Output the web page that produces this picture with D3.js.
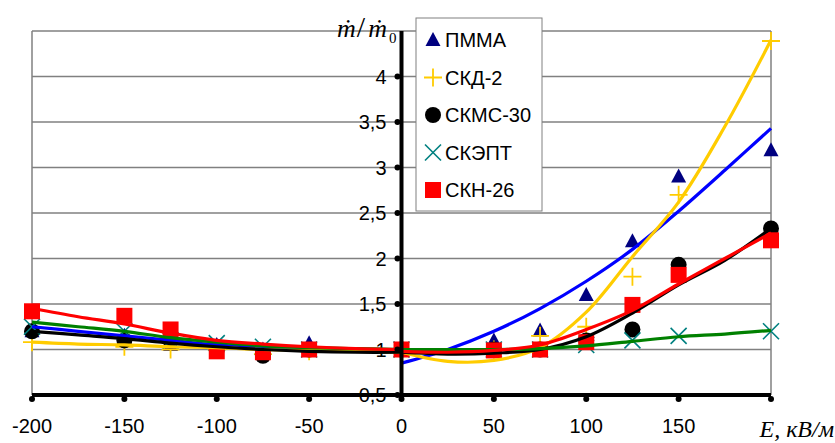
<!DOCTYPE html>
<html lang="ru">
<head>
<meta charset="UTF-8">
<title>m/m0 vs E</title>
<script src="https://cdn.jsdelivr.net/npm/d3@7/dist/d3.min.js"></script>
<style>
  body { margin: 0; background: #fff; }
  svg text { font-family: "Liberation Sans", Arial, sans-serif; }
</style>
</head>
<body>
<script>
// Measured points (x = E, kV/m)
const xPoints = [-200, -150, -125, -100, -75, -50, 0, 50, 75, 100, 125, 150, 200];
const pmma  = [1.2, 1.15, 1.05, 1.05, 1.0, 1.07, 1.0, 1.1, 1.21, 1.6, 2.19, 2.9, 3.19];
const skd2  = [1.08, 1.03, 1.0, 1.0, 0.95, 0.98, 1.0, 1.0, 1.15, 1.25, 1.8, 2.7, 4.39];
const skms  = [1.2, 1.1, 1.1, 1.0, 0.93, 1.0, 1.0, 1.0, 1.0, 1.1, 1.22, 1.93, 2.33];
const skept = [1.25, 1.2, 1.1, 1.07, 1.03, 1.0, 1.0, 1.0, 1.0, 1.05, 1.1, 1.15, 1.2];
const skn   = [1.42, 1.37, 1.22, 0.98, 0.97, 1.0, 1.0, 0.99, 1.0, 1.08, 1.49, 1.82, 2.2];

// Trend lines (left and right branches)
const leftX  = [-200, -175, -150, -125, -100, -75, -50, -25, 0];
const rightX = [0, 25, 50, 75, 100, 125, 150, 175, 200];
const pmmaL  = [1.25, 1.2, 1.15, 1.1, 1.05, 1.02, 1.01, 1.0, 1.0];
const pmmaR  = [0.85, 1.0, 1.2, 1.45, 1.75, 2.1, 2.52, 2.97, 3.43];
const skd2L  = [1.08, 1.06, 1.05, 1.03, 1.02, 1.0, 0.99, 0.98, 0.97];
const skd2R  = [0.97, 0.87, 0.88, 1.02, 1.41, 2.02, 2.62, 3.45, 4.4];
const skmsL  = [1.2, 1.16, 1.12, 1.07, 1.03, 1.0, 0.98, 0.97, 0.97];
const skmsR  = [0.97, 0.95, 0.96, 1.0, 1.14, 1.4, 1.71, 1.98, 2.33];
const skeptL = [1.3, 1.25, 1.2, 1.13, 1.08, 1.04, 1.02, 1.01, 1.0];
const skeptR = [1.0, 1.0, 1.0, 1.01, 1.04, 1.09, 1.14, 1.17, 1.21];
const sknL   = [1.45, 1.36, 1.28, 1.18, 1.1, 1.06, 1.03, 1.01, 1.0];
const sknR   = [0.98, 0.97, 0.99, 1.05, 1.22, 1.43, 1.72, 2.0, 2.28];

const seriesNames = ["ПММА", "СКД-2", "СКМС-30", "СКЭПТ", "СКН-26"];
const xTicks = [-200, -150, -100, -50, 0, 50, 100, 150];
const yTicks = [0.5, 1, 1.5, 2, 2.5, 3, 3.5, 4];
const yGrid = [1, 1.5, 2, 2.5, 3, 3.5, 4, 4.5];

const w = 835, h = 443;
const svg = d3.select("body").append("svg").attr("width", w).attr("height", h);

const x = d3.scaleLinear().domain([-200, 200]).range([32, 771]);
const y = d3.scaleLinear().domain([0.5, 4.5]).range([395, 31]);

// plot area border + grid
svg.append("g").selectAll("line").data(yGrid).join("line")
  .attr("x1", x(-200)).attr("x2", x(200))
  .attr("y1", d => y(d)).attr("y2", d => y(d))
  .attr("stroke", "#808080").attr("stroke-width", 1.5);
svg.append("line").attr("x1", x(-200)).attr("x2", x(-200)).attr("y1", y(4.5)).attr("y2", y(0.5))
  .attr("stroke", "#808080").attr("stroke-width", 1.5);
svg.append("line").attr("x1", x(200)).attr("x2", x(200)).attr("y1", y(4.5)).attr("y2", y(0.5))
  .attr("stroke", "#808080").attr("stroke-width", 1.5);

// y tick labels
const fmt = d => String(d).replace(".", ",");
svg.append("g").selectAll("text").data(yTicks).join("text")
  .attr("x", x(0) - 15).attr("y", d => y(d) + 7)
  .attr("text-anchor", "end").attr("font-size", 20).text(fmt);

// markers
const series = [
  { vals: pmma,  type: "tri" },
  { vals: skd2,  type: "plus" },
  { vals: skms,  type: "circle" },
  { vals: skept, type: "cross" },
  { vals: skn,   type: "square" }
];
const markerColor = { tri: "#000080", plus: "#FFCC00", circle: "#000000", cross: "#008080", square: "#FF0000" };

function drawMarker(g, type, cx, cy) {
  const c = markerColor[type];
  if (type === "tri") {
    g.append("path").attr("d", `M${cx},${cy - 8}L${cx + 7.5},${cy + 6}L${cx - 7.5},${cy + 6}Z`).attr("fill", c);
  } else if (type === "plus") {
    g.append("path").attr("d", `M${cx - 9},${cy}H${cx + 9}M${cx},${cy - 9}V${cy + 9}`)
      .attr("stroke", c).attr("stroke-width", 1.8).attr("fill", "none");
  } else if (type === "circle") {
    g.append("circle").attr("cx", cx).attr("cy", cy).attr("r", 8).attr("fill", c);
  } else if (type === "cross") {
    g.append("path").attr("d", `M${cx - 8},${cy - 8}L${cx + 8},${cy + 8}M${cx + 8},${cy - 8}L${cx - 8},${cy + 8}`)
      .attr("stroke", c).attr("stroke-width", 1.6).attr("fill", "none");
  } else {
    g.append("rect").attr("x", cx - 8).attr("y", cy - 8).attr("width", 16).attr("height", 16).attr("fill", c);
  }
}

const mk = svg.append("g");
series.forEach(s => {
  s.vals.forEach((v, i) => drawMarker(mk, s.type, x(xPoints[i]), y(v)));
});

// trend lines
const line = d3.line().x(d => x(d[0])).y(d => y(d[1])).curve(d3.curveCatmullRom);
const trends = [
  { l: pmmaL,  r: pmmaR,  c: "#0000FF" },
  { l: skd2L,  r: skd2R,  c: "#FFCC00" },
  { l: skmsL,  r: skmsR,  c: "#000000" },
  { l: skeptL, r: skeptR, c: "#008000" },
  { l: sknL,   r: sknR,   c: "#FF0000" }
];
const tg = svg.append("g");
trends.forEach(t => {
  tg.append("path").datum(leftX.map((xv, i) => [xv, t.l[i]]))
    .attr("d", line).attr("fill", "none").attr("stroke", t.c).attr("stroke-width", 3.2);
  tg.append("path").datum(rightX.map((xv, i) => [xv, t.r[i]]))
    .attr("d", line).attr("fill", "none").attr("stroke", t.c).attr("stroke-width", 3.2);
});

// axes (thick black, dot ticks)
svg.append("line").attr("x1", x(0)).attr("x2", x(0)).attr("y1", y(4.5)).attr("y2", y(0.5))
  .attr("stroke", "#000").attr("stroke-width", 4);
svg.append("line").attr("x1", x(-200)).attr("x2", x(200)).attr("y1", y(0.5)).attr("y2", y(0.5))
  .attr("stroke", "#000").attr("stroke-width", 4);
svg.append("g").selectAll("circle").data(yTicks).join("circle")
  .attr("cx", x(0) - 4).attr("cy", d => y(d)).attr("r", 3).attr("fill", "#000");
svg.append("g").selectAll("circle").data(xTicks.concat([200])).join("circle")
  .attr("cx", d => x(d)).attr("cy", y(0.5) + 4).attr("r", 3).attr("fill", "#000");

// x tick labels
svg.append("g").selectAll("text").data(xTicks).join("text")
  .attr("x", d => x(d)).attr("y", 433)
  .attr("text-anchor", "middle").attr("font-size", 20).text(d => d);

// axis titles
svg.append("text").attr("x", 834).attr("y", 437).attr("text-anchor", "end")
  .style("font-family", "'Liberation Serif', 'Times New Roman', serif")
  .attr("font-style", "italic").attr("font-size", 24).text("E, кВ/м");

const yl = svg.append("text").attr("x", 337).attr("y", 37)
  .style("font-family", "'Liberation Serif', 'Times New Roman', serif")
  .attr("font-style", "italic").attr("font-size", 26);
yl.append("tspan").text("ṁ");
yl.append("tspan").attr("dx", 1).attr("font-style", "normal").attr("font-size", 30).text("/");
yl.append("tspan").attr("dx", 3).text("ṁ");
yl.append("tspan").attr("dx", 2).attr("dy", 6).attr("font-size", 15).attr("font-style", "normal").text("0");

// legend
const lg = svg.append("g");
lg.append("rect").attr("x", 416).attr("y", 18).attr("width", 126).attr("height", 193)
  .attr("fill", "#fff").attr("stroke", "#808080").attr("stroke-width", 1);
seriesNames.forEach((n, i) => {
  const cy = 40 + i * 37.5;
  drawMarker(lg, series[i].type, 433, cy);
  lg.append("text").attr("x", 445).attr("y", cy + 7).attr("font-size", 20).text(n);
});
</script>
</body>
</html>
